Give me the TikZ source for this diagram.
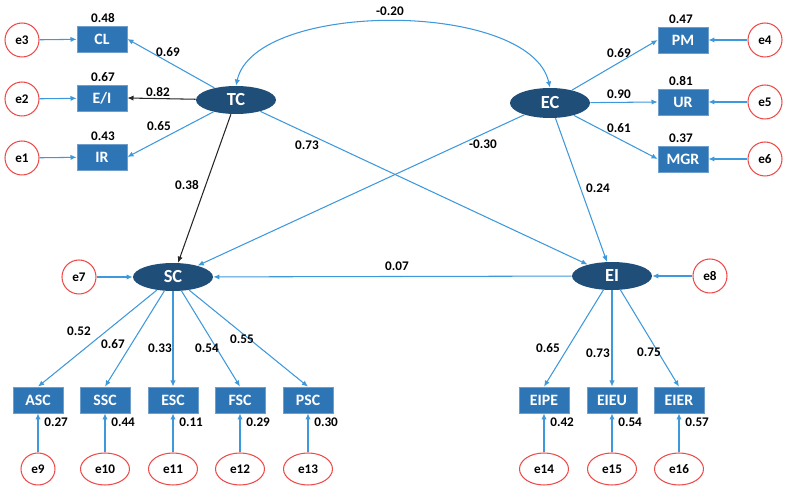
\documentclass[tikz,border=0pt]{standalone}
\usepackage{fontspec}
\setmainfont{Carlito}
\usetikzlibrary{shapes.geometric,arrows.meta}
\definecolor{latfill}{HTML}{1F4E79}
\definecolor{obsfill}{HTML}{2E75B6}
\definecolor{errline}{HTML}{EE4B4B}
\definecolor{pathline}{HTML}{3D98DC}
\tikzset{
  latent/.style={ellipse,fill=latfill,text=white,minimum width=1.6cm,minimum height=0.56cm,inner sep=0pt,font=\fontsize{10.5}{12}\selectfont\bfseries},
  obsbox/.style={rectangle,fill=obsfill,draw=obsfill!70!white,line width=0.4pt,text=white,minimum width=1cm,minimum height=0.52cm,inner sep=0pt,font=\fontsize{9}{11}\selectfont\bfseries},
  errcirc/.style={circle,draw=errline,line width=0.6pt,minimum size=0.68cm,inner sep=0pt,font=\fontsize{7.5}{9}\selectfont\bfseries},
  errell/.style={ellipse,draw=errline,line width=0.6pt,minimum height=0.64cm,inner sep=0pt,font=\fontsize{7.5}{9}\selectfont\bfseries},
  coef/.style={inner sep=0pt,font=\fontsize{7.5}{9}\selectfont\bfseries},
  link/.style={draw=pathline,line width=0.6pt,->},
  blink/.style={draw=black!85,line width=0.6pt,->}
}

\begin{document}
\begin{tikzpicture}[x=0.02cm,y=-0.02cm,>={Latex[length=3.5pt,width=3pt]}]
    \useasboundingbox (0,0) rectangle (789,489);

    \node[latent] (TC) at (236,100) {TC};
    \node[latent,minimum height=0.6cm] (EC) at (550,103) {EC};
    \node[latent] (SC) at (173,277) {SC};
    \node[latent] (EI) at (612,276) {EI};

    % indicators of TC and EC
    \foreach \nm/\txt/\err/\y/\r in {CL/CL/e3/39/0.48, EsI/{E/I}/e2/98/0.67, IR/IR/e1/157/0.43} {
        \node[obsbox] (\nm) at (102,\y) {\txt};
        \node[errcirc] (\err) at (22,\y+1) {\err};
        \node[coef] (r\nm) at (103,\y-21) {\r};
        \draw[link] (\err) -- (\nm);
    }
    \foreach \nm/\err/\y/\r/\l/\ly in {PM/e4/40/0.47/0.69/53, UR/e5/102/0.81/0.90/94, MGR/e6/159/0.37/0.61/128} {
        \node[obsbox] (\nm) at (683,\y) {\nm};
        \node[errcirc] (\err) at (765,\y) {\err};
        \node[coef] (r\nm) at (681,\y-21) {\r};
        \draw[link] (\err) -- (\nm);
        \draw[link] (EC) -- (\nm.west);
        \node[coef] (l\nm) at (619,\ly) {\l};
    }
    \draw[link] (TC) -- (CL.east);
    \draw[blink] (TC) -- (EsI.east);
    \draw[link] (TC) -- (IR.east);
    \node[coef] (lCL) at (168,52) {0.69};
    \node[coef] (lEsI) at (158,92) {0.82};
    \node[coef] (lIR) at (159,126) {0.65};

    % indicators of SC and EI
    \foreach \nm/\x/\err/\w/\r/\l/\lx/\ly in {ASC/38/e9/0.68/0.27/0.52/79/331, SSC/105/e10/0.98/0.44/0.67/113/344, ESC/173/e11/0.98/0.11/0.33/160/348, FSC/240/e12/0.98/0.29/0.54/207/348, PSC/308/e13/0.98/0.30/0.55/242/339} {
        \node[obsbox] (\nm) at (\x,400) {\nm};
        \node[errell,minimum width=\w cm] (\err) at (\x,469) {\err};
        \node[coef,anchor=west] (r\nm) at (\x+6,422) {\r};
        \draw[link] (\err) -- (\nm);
        \draw[link] (SC) -- (\nm.north);
        \node[coef] (l\nm) at (\lx,\ly) {\l};
    }
    \foreach \nm/\x/\err/\r/\l/\lx/\ly in {EIPE/544/e14/0.42/0.65/548/348, EIEU/612/e15/0.54/0.73/598/353, EIER/679/e16/0.57/0.75/649/352} {
        \node[obsbox] (\nm) at (\x,400) {\nm};
        \node[errell,minimum width=0.98cm] (\err) at (\x,469) {\err};
        \node[coef,anchor=west] (r\nm) at (\x+6,422) {\r};
        \draw[link] (\err) -- (\nm);
        \draw[link] (EI) -- (\nm.north);
        \node[coef] (l\nm) at (\lx,\ly) {\l};
    }

    \node[errcirc] (e7) at (79,277) {e7};
    \node[errcirc] (e8) at (710,276) {e8};
    \draw[link] (e7) -- (SC);
    \draw[link] (e8) -- (EI);

    % structural paths
    \draw[link,<->] (TC.north) .. controls (255,0) and (530,0) .. (EC.north);
    \draw[blink] (TC) -- (SC);
    \draw[link] (TC) -- (EI);
    \draw[link] (EC) -- (SC);
    \draw[link] (EC) -- (EI);
    \draw[link] (EI) -- (SC);
    \node[coef] (cTCEC) at (390,11) {-0.20};
    \node[coef] (cTCSC) at (187,185) {0.38};
    \node[coef] (cTCEI) at (307,145) {0.73};
    \node[coef] (cECSC) at (483,144) {-0.30};
    \node[coef] (cECEI) at (598,188) {0.24};
    \node[coef] (cEISC) at (397,266) {0.07};
\end{tikzpicture}
\end{document}
